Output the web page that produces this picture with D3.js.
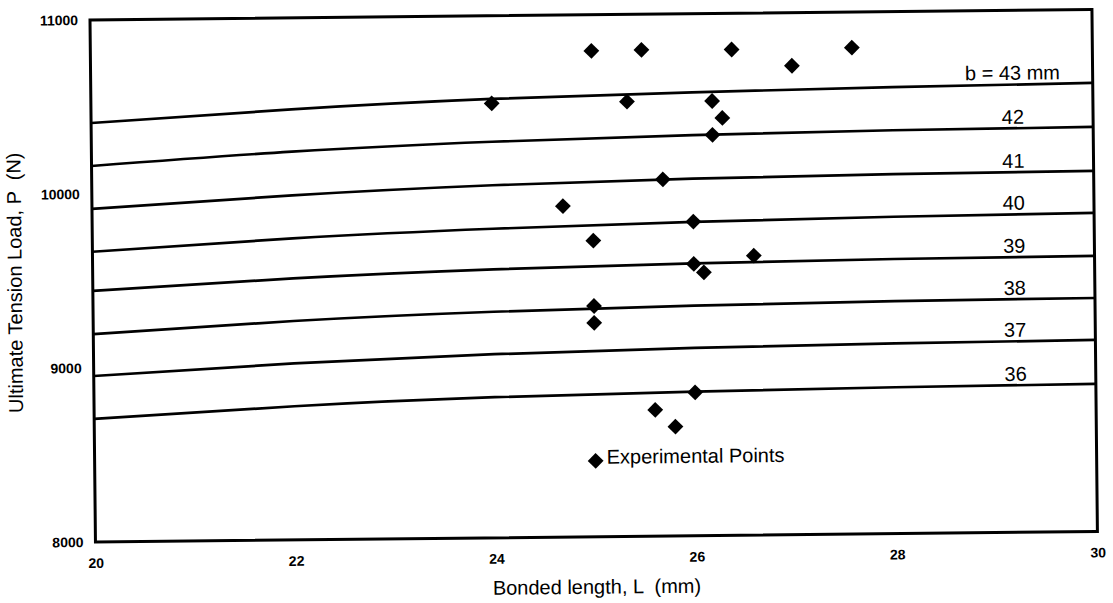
<!DOCTYPE html>
<html>
<head>
<meta charset="utf-8">
<script src="https://cdn.jsdelivr.net/npm/d3@7"></script>
<style>
  body { margin: 0; background: #fff; }
  text { font-family: Arial, "Liberation Sans", sans-serif; fill: #000; white-space: pre; }
</style>
</head>
<body>
<script>
// bonded length L (mm) where each curve was read
var lengths = [20, 22, 24, 26, 28, 30];

// curve widths b (mm)
var bValues = [43, 42, 41, 40, 39, 38, 37, 36];

// ultimate load P (N) for each b, at the lengths above
var load43 = [10408, 10474, 10522, 10548, 10566, 10578];
var load42 = [10161, 10231, 10276, 10302, 10318, 10325];
var load41 = [9914, 9980, 10026, 10052, 10066, 10072];
var load40 = [9668, 9733, 9776, 9803, 9821, 9831];
var load39 = [9443, 9503, 9543, 9565, 9578, 9584];
var load38 = [9195, 9258, 9299, 9322, 9336, 9342];
var load37 = [8954, 9014, 9055, 9079, 9093, 9101];
var load36 = [8707, 8768, 8808, 8828, 8841, 8848];
var curveLoads = [load43, load42, load41, load40, load39, load38, load37, load36];

// experimental points
var expL = [25.0, 25.5, 26.4, 27.6, 27.0, 24.0, 25.35, 26.2, 26.3, 26.2, 25.7, 24.7,
            26.0, 25.0, 26.6, 26.0, 26.1, 25.0, 25.0, 26.0, 25.6, 25.8, 25.0];
var expP = [10792, 10795, 10792, 10795, 10695, 10497, 10499, 10497, 10399, 10302, 10050, 9902,
            9805, 9702, 9606, 9562, 9513, 9326, 9229, 8824, 8725, 8628, 8436];

var xTicks = [20, 22, 24, 26, 28, 30];
var yTicks = [8000, 9000, 10000, 11000];

var width = 1113,
    height = 603;
var w = 1002,
    h = 522;

var svg = d3.select("body").append("svg")
    .attr("width", width)
    .attr("height", height);

// the scanned figure is tilted a little
var g = svg.append("g")
    .attr("transform", "translate(90,20) rotate(-0.6)");

var x = d3.scaleLinear().domain([20, 30]).range([0, w]);
var y = d3.scaleLinear().domain([8000, 11000]).range([h, 0]);

var line = d3.line()
    .x(function (d) { return x(d[0]); })
    .y(function (d) { return y(d[1]); })
    .curve(d3.curveNatural);

g.append("g")
    .attr("class", "y axis")
    .call(d3.axisLeft(y).tickValues(yTicks).tickSize(0).tickPadding(12).tickFormat(d3.format("d")))
    .call(function (a) { a.select(".domain").remove(); })
    .selectAll("text")
    .style("font-size", "14px")
    .style("font-weight", "bold");

g.append("g")
    .attr("class", "x axis")
    .attr("transform", "translate(0," + h + ")")
    .call(d3.axisBottom(x).tickValues(xTicks).tickSize(0).tickPadding(16))
    .call(function (a) { a.select(".domain").remove(); })
    .selectAll("text")
    .style("font-size", "14px")
    .style("font-weight", "bold");

g.selectAll(".curve")
    .data(curveLoads)
    .enter().append("path")
    .attr("class", "curve")
    .attr("fill", "none")
    .attr("stroke", "#000")
    .attr("stroke-width", 2.7)
    .attr("d", function (d) { return line(d.map(function (p, i) { return [lengths[i], p]; })); });

g.selectAll(".blabel")
    .data(bValues)
    .enter().append("text")
    .attr("class", "blabel")
    .attr("x", x(29.2))
    .attr("y", function (d, i) { var c = curveLoads[i]; return y(c[c.length - 1]) - 4; })
    .attr("text-anchor", "middle")
    .style("font-size", "20px")
    .text(function (d, i) { return i === 0 ? "b = " + d + " mm" : d; });

var pts = expL.map(function (d, i) { return [d, expP[i]]; });

g.selectAll(".pt")
    .data(pts)
    .enter().append("path")
    .attr("class", "pt")
    .attr("d", d3.symbol().type(d3.symbolSquare).size(125))
    .attr("fill", "#000")
    .attr("transform", function (d) { return "translate(" + x(d[0]) + "," + y(d[1]) + ") rotate(45)"; });

var last = pts[pts.length - 1];
g.append("text")
    .attr("x", x(last[0]) + 11)
    .attr("y", y(last[1]) + 3)
    .style("font-size", "20px")
    .text("Experimental Points");

g.append("rect")
    .attr("width", w)
    .attr("height", h)
    .attr("fill", "none")
    .attr("stroke", "#000")
    .attr("stroke-width", 3);

g.append("text")
    .attr("x", w / 2)
    .attr("y", h + 57)
    .attr("text-anchor", "middle")
    .style("font-size", "20px")
    .text("Bonded length, L  (mm)");

g.append("text")
    .attr("transform", "translate(-71," + 262 + ") rotate(-90)")
    .attr("text-anchor", "middle")
    .style("font-size", "20px")
    .text("Ultimate Tension Load, P  (N)");
</script>
</body>
</html>
